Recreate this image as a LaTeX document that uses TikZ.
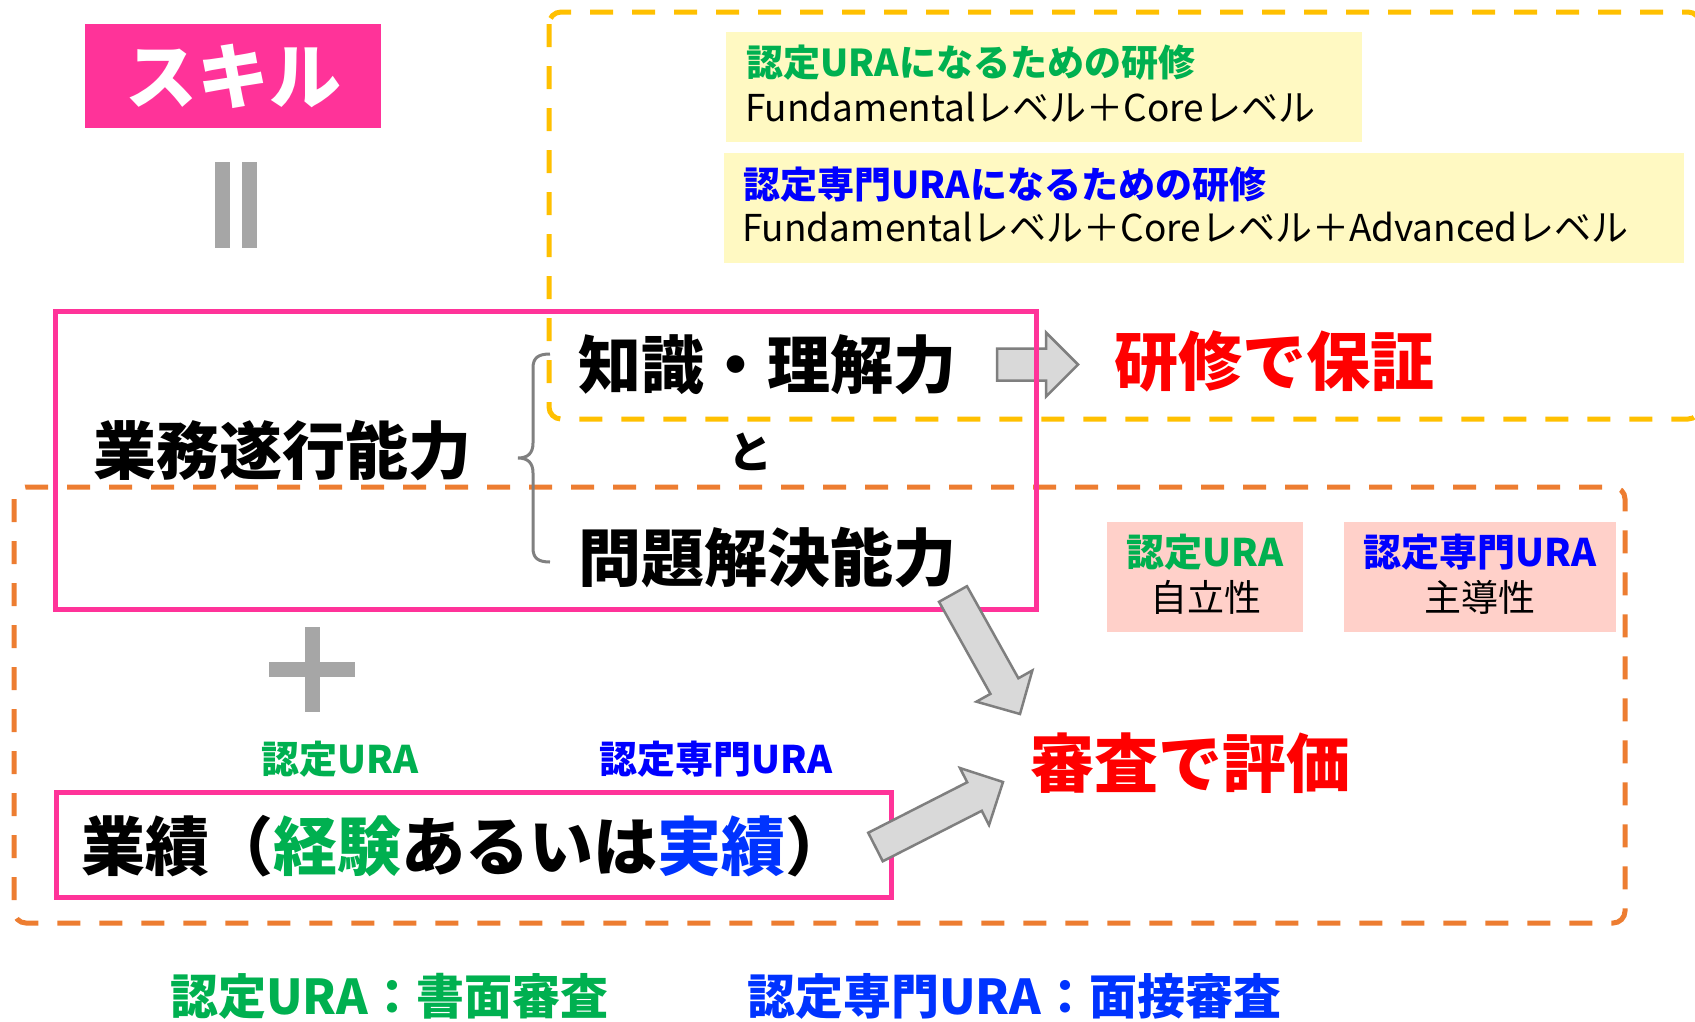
\documentclass[tikz,border=0pt]{standalone}
\usepackage{fontspec}
\setmainfont{Noto Sans CJK JP}
\usetikzlibrary{calc}
\definecolor{pinkm}{HTML}{FF3399}
\definecolor{orng}{HTML}{ED7D31}
\definecolor{yell}{HTML}{FFC000}
\definecolor{grn}{HTML}{00B050}
\definecolor{blu}{HTML}{0000FF}
\definecolor{blutwo}{HTML}{0033FF}
\definecolor{redd}{HTML}{FF0000}
\definecolor{ltyel}{HTML}{FFF9C2}
\definecolor{ltpink}{HTML}{FFD0C9}
\definecolor{grayfill}{HTML}{D9D9D9}
\definecolor{grayline}{HTML}{7F7F7F}
\definecolor{graysym}{HTML}{A6A6A6}
\definecolor{bracegray}{HTML}{808080}
\newcommand\fsz[1]{\fontsize{#1pt}{#1pt}\selectfont}
\newcommand\mkblockarrow[2]{%
  \coordinate (hb) at ($(#2)!32pt!(#1)$);
  \draw[barrow] ($(#1)!16pt!90:(#2)$) -- ($(hb)!16pt!90:(#2)$) -- ($(hb)!32pt!90:(#2)$)
    -- (#2) -- ($(hb)!32pt!-90:(#2)$) -- ($(hb)!16pt!-90:(#2)$) -- ($(#1)!16pt!-90:(#2)$) -- cycle;}
\begin{document}
\begin{tikzpicture}[x=1pt,y=-1pt,
  txt/.style={inner sep=0pt,anchor=base west},
  ctxt/.style={inner sep=0pt,anchor=base},
  barrow/.style={draw=grayline,fill=grayfill,line width=2.5pt,line join=miter},
  dashbox/.style={line width=5pt,dash pattern=on 23pt off 19pt,rounded corners=12pt},
  pinkbox/.style={draw=pinkm,line width=5pt},
  fillbox/.style={inner sep=0pt,anchor=north west},
  symbar/.style={fill=graysym}]
\useasboundingbox (0,0) rectangle (1695,1021);
\clip (0,0) rectangle (1695,1021);
\fill[white] (0,0) rectangle (1695,1021);

% skill box
\node[fillbox,fill=pinkm,minimum width=296pt,minimum height=104pt,text=white,font=\fsz{72}\bfseries] (skill) at (85,24) {\raisebox{2pt}{スキル}};
% vertical equals
\fill[symbar] (215,162) rectangle (230,248);
\fill[symbar] (242,162) rectangle (257,248);

% dashed regions
\draw[dashbox,draw=yell] (549,12) rectangle (1700,419);
\draw[dashbox,draw=orng] (14,487) rectangle (1625,923);

% yellow boxes
\node[fillbox,fill=ltyel,minimum width=636pt,minimum height=110pt] (boxA) at (726,32) {};
\node[txt,text=grn,font=\fsz{37}\bfseries] (boxAt) at (746.5,76) {認定URAになるための研修};
\node[txt,font=\fsz{37}] (boxAs) at (745,121) {Fundamentalレベル＋Coreレベル};
\node[fillbox,fill=ltyel,minimum width=960pt,minimum height=110pt] (boxB) at (724,153) {};
\node[txt,text=blu,font=\fsz{37}\bfseries] (boxBt) at (743.5,198) {認定専門URAになるための研修};
\node[txt,font=\fsz{37}] (boxBs) at (742,241) {Fundamentalレベル＋Coreレベル＋Advancedレベル};

% right arrow (behind pink box)
\coordinate (ra1) at (997,364.5);
\coordinate (ra2) at (1078,364.5);
\mkblockarrow{ra1}{ra2}

% pink box 1
\draw[pinkbox] (55,311) rectangle (1036,609);
\node[txt,font=\fsz{63}\bfseries] (gyomu) at (93.5,474) {業務遂行能力};
\draw[bracegray,line width=3pt] (550,354) .. controls (538,354) and (533,358) .. (533,368) -- (533,443)
  .. controls (533,453) and (528,458) .. (518,458) .. controls (528,458) and (533,463) .. (533,473)
  -- (533,548) .. controls (533,558) and (538,562) .. (550,562);
\node[txt,font=\fsz{63}\bfseries] (chishiki) at (578.5,388) {知識・理解力};
\node[ctxt,font=\fsz{44}\bfseries] (to) at (750,468) {と};
\node[txt,font=\fsz{63}\bfseries] (mondai) at (578.5,581) {問題解決能力};

\node[txt,text=redd,font=\fsz{64}\bfseries] (kenshu) at (1114,385.5) {研修で保証};

% pink light boxes
\node[fillbox,fill=ltpink,minimum width=196pt,minimum height=110pt] (boxC) at (1107,522) {};
\node[ctxt,text=grn,font=\fsz{38}\bfseries] (boxCt) at (1205,566) {認定URA};
\node[ctxt,font=\fsz{37}] (boxCs) at (1206,611) {自立性};
\node[fillbox,fill=ltpink,minimum width=272.5pt,minimum height=110pt] (boxD) at (1343.5,522) {};
\node[ctxt,text=blu,font=\fsz{38}\bfseries] (boxDt) at (1480,566) {認定専門URA};
\node[ctxt,font=\fsz{37}] (boxDs) at (1480,611) {主導性};

% plus
\fill[symbar] (305,627) rectangle (320,712);
\fill[symbar] (269,662) rectangle (355,677);

\node[ctxt,text=grn,font=\fsz{38}\bfseries] (labA) at (340,773) {認定URA};
\node[ctxt,text=blu,font=\fsz{38}\bfseries] (labB) at (716,773) {認定専門URA};

% pink box 2
\draw[pinkbox] (56,792) rectangle (891,897);
\node[txt,font=\fsz{64}\bfseries] (gyoseki) at (81.5,870) {業績（\textcolor{grn}{経験}あるいは\textcolor{blutwo}{実績}）};

\node[txt,text=redd,font=\fsz{64}\bfseries] (shinsa) at (1030,787) {審査で評価};

% arrows to evaluation
\coordinate (da1) at (953,594);
\coordinate (da2) at (1020,714);
\mkblockarrow{da1}{da2}
\coordinate (ua1) at (875.5,847);
\coordinate (ua2) at (1003,782);
\mkblockarrow{ua1}{ua2}

% bottom
\node[txt,text=grn,font=\fsz{48}\bfseries] (botA) at (170,1014) {認定URA：書面審査};
\node[txt,text=blutwo,font=\fsz{48}\bfseries] (botB) at (747,1014) {認定専門URA：面接審査};
\end{tikzpicture}
\end{document}
